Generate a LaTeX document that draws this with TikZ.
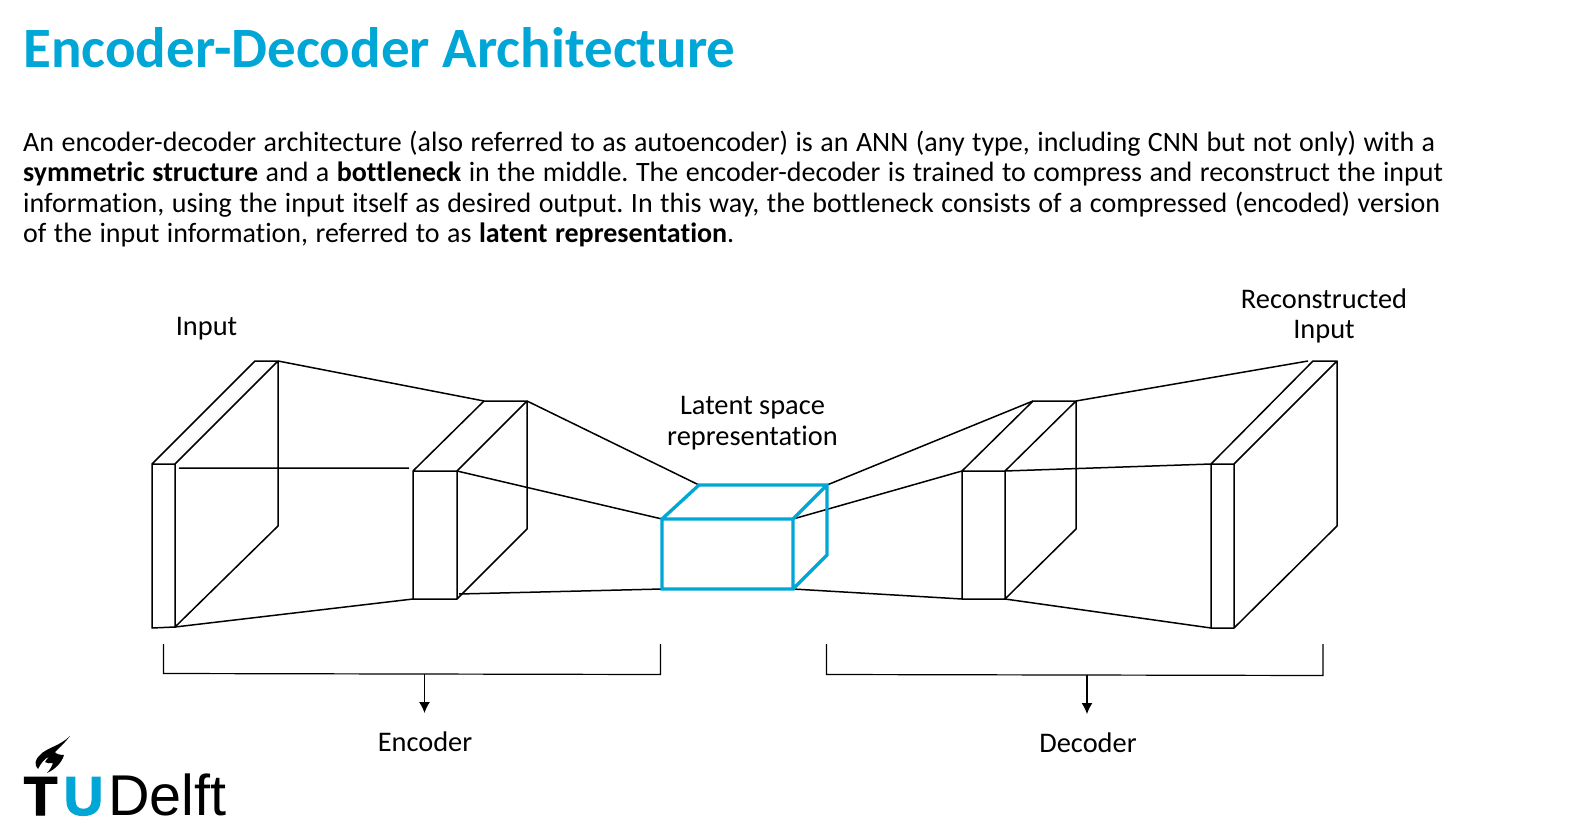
\documentclass[tikz,border=0pt]{standalone}
\usepackage{fontspec}
\usetikzlibrary{arrows.meta}
\setmainfont{Carlito}[Ligatures=NoCommon]
\newfontfamily\logofont{Liberation Sans}
\newfontfamily\logobold{Liberation Sans}[BoldFeatures={FakeBold=2}]
\definecolor{tublue}{HTML}{00A6D6}
\protected\def\bodysp{\spaceskip 7.5pt\relax}
\AtBeginDocument{\frenchspacing}
\tikzset{
 px/.style={x=1pt,y=-1pt},
 thin line/.style={draw=black,line width=1.5pt,line join=round},
 bracket line/.style={draw=black,line width=1.2pt,line join=miter},
 blue line/.style={draw=tublue,line width=3.3pt,line join=miter},
 label text/.style={font=\fontsize{28.4}{30.5}\selectfont,align=center,text=black,inner sep=0pt},
 body text/.style={font=\fontsize{28}{30.3}\selectfont,align=left,anchor=north west,inner sep=0pt,text width=1540pt},
 logo letter/.style={anchor=base west,inner sep=0pt}
}
\begin{document}
\begin{tikzpicture}[px]
\useasboundingbox (0,0) rectangle (1574,840);
\node[anchor=base west,inner sep=0pt,text=tublue,font=\fontsize{57}{60}\selectfont\bfseries] (title) at (23,68) {Encoder-Decoder Architecture};
\node[body text] (body) at (23,131) {\bodysp An encoder-decoder architecture (also referred to as autoencoder) is an ANN (any type, including CNN but not only) with a\\
\textbf{symmetric structure} and a \textbf{bottleneck} in the middle. The encoder-decoder is trained to compress and reconstruct the input\\
information, using the input itself as desired output. In this way, the bottleneck consists of a compressed (encoded) version\\
of the input information, referred to as \textbf{latent representation}.};
% blocks
\coordinate (a1) at (152,464); \coordinate (a2) at (175,464); \coordinate (a3) at (175,627); \coordinate (a4) at (152,628);
\coordinate (a5) at (255,361); \coordinate (a6) at (278,361); \coordinate (a7) at (278,526);
\draw[thin line] (a1)--(a2)--(a3)--(a4)--cycle (a1)--(a5)--(a6)--(a7)--(a3) (a2)--(a6);
\coordinate (b1) at (413,471); \coordinate (b2) at (457,471); \coordinate (b3) at (457,599); \coordinate (b4) at (413,599);
\coordinate (b5) at (484,401); \coordinate (b6) at (527,401); \coordinate (b7) at (527,529);
\draw[thin line] (b1)--(b2)--(b3)--(b4)--cycle (b1)--(b5)--(b6)--(b7)--(b3) (b2)--(b6);
\coordinate (d1) at (962,471); \coordinate (d2) at (1005,471); \coordinate (d3) at (1005,599); \coordinate (d4) at (962,599);
\coordinate (d5) at (1033,401); \coordinate (d6) at (1076,401); \coordinate (d7) at (1076,529);
\draw[thin line] (d1)--(d2)--(d3)--(d4)--cycle (d1)--(d5)--(d6)--(d7)--(d3) (d2)--(d6);
\coordinate (e1) at (1211,464); \coordinate (e2) at (1234,464); \coordinate (e3) at (1234,628); \coordinate (e4) at (1211,628);
\coordinate (e5) at (1313,361); \coordinate (e6) at (1337,361); \coordinate (e7) at (1337,526);
\draw[thin line] (e1)--(e2)--(e3)--(e4)--cycle (e1)--(e5)--(e6)--(e7)--(e3) (e2)--(e6);
\coordinate (c1) at (662,519); \coordinate (c2) at (793,519); \coordinate (c3) at (793,589); \coordinate (c4) at (662,589);
\coordinate (c5) at (699,485); \coordinate (c6) at (827,485); \coordinate (c7) at (827,555);
% connecting lines
\coordinate (n1) at (179,468); \coordinate (n2) at (409,468);
\coordinate (n3) at (459,594);
\coordinate (n4) at (1308,361);
\draw[thin line] (n1)--(n2) (a6)--(b5) (a3)--(b4);
\draw[thin line] (b2)--(c1) (b6)--(c5) (n3)--(c4);
\draw[thin line] (c2)--(d1) (c6)--(d5) (c3)--(d4);
\draw[thin line] (d2)--(e1) (d6)--(n4) (d3)--(e4);
\draw[blue line] (c1)--(c2)--(c3)--(c4)--cycle (c1)--(c5)--(c6)--(c7)--(c3) (c2)--(c6);
% brackets
\coordinate (p1) at (163.5,644); \coordinate (p2) at (163.5,673.5); \coordinate (p3) at (660.5,674.5); \coordinate (p4) at (660.5,644);
\coordinate (p5) at (424.5,674); \coordinate (p6) at (424.5,713);
\draw[bracket line] (p1)--(p2)--(p3)--(p4);
\draw[bracket line,-{Latex[length=11pt,width=11pt]}] (p5)--(p6);
\coordinate (q1) at (826.5,644); \coordinate (q2) at (826.5,674.5); \coordinate (q3) at (1323,675.5); \coordinate (q4) at (1323,644);
\coordinate (q5) at (1087,675); \coordinate (q6) at (1087,714);
\draw[bracket line] (q1)--(q2)--(q3)--(q4);
\draw[bracket line,-{Latex[length=11pt,width=11pt]}] (q5)--(q6);
% labels
\node[label text] (input) at (206.5,329) {Input};
\node[label text] (recon) at (1324,316) {Reconstructed\\Input};
\node[label text] (latent) at (752.5,423) {Latent space\\representation};
\node[label text] (enc) at (425,742) {Encoder};
\node[label text] (dec) at (1088,743) {Decoder};
% logo
\fill[black] (70,736) .. controls (63,745) and (58,749) .. (55,752) .. controls (56,754) and (60,755) .. (64,755)
 .. controls (62,762) and (56,769) .. (47,773) .. controls (50,770) and (52,766) .. (53,763)
 .. controls (50,764) and (47,763) .. (45,762) .. controls (46,760) and (48,758) .. (49,757)
 .. controls (45,758) and (41,763) .. (38,769) .. controls (34,765) and (35,759) .. (40,755)
 .. controls (46,748) and (60,746) .. (70,736) -- cycle;
\node[logo letter,text=black,font=\fontsize{55}{60}\selectfont\logobold\bfseries] (logot) at (23.5,815) {T};
\node[logo letter,text=tublue,font=\fontsize{55}{60}\selectfont\logobold\bfseries] (logou) at (63.5,815) {U};
\node[logo letter,text=black,font=\fontsize{57.5}{60}\selectfont\logofont] (logod) at (108,815) {Delft};
\end{tikzpicture}
\end{document}
